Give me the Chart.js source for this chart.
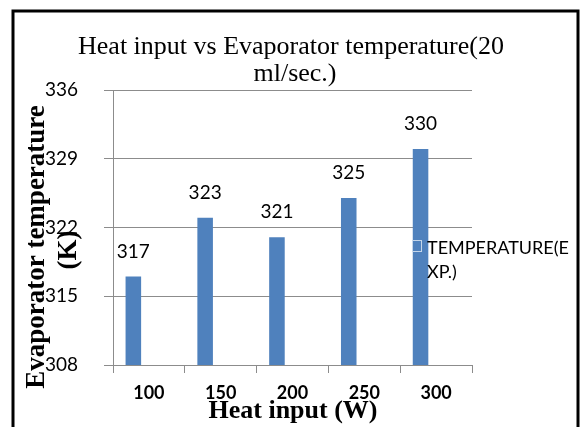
<!DOCTYPE html>
<html>
<head>
<meta charset="utf-8">
<script src="https://cdn.jsdelivr.net/npm/chart.js@4.4.7/dist/chart.umd.min.js"></script>
<style>
  html, body { margin: 0; padding: 0; background: #fff; }
  #wrap { width: 588px; height: 427px; }
</style>
</head>
<body>
<div id="wrap"><canvas id="heatChart" width="588" height="427"></canvas></div>
<script>
const heatInputs = ['100', '150', '200', '250', '300'];
const evapTemps = [317, 323, 321, 325, 330];
const yTicks = [308, 315, 322, 329, 336];
const seriesLabel = 'TEMPERATURE(EXP.)';
const titleLines = ['Heat input vs Evaporator temperature(20', 'ml/sec.)'];

const barBlue = '#4F81BD';
const gridGray = '#8c8c8c';

// titles, value labels, legend and frame drawn on top of the chart
const decorations = {
  id: 'decorations',
  beforeDraw(chart) {
    const ctx = chart.ctx;
    ctx.save();
    ctx.fillStyle = '#fff';
    ctx.fillRect(0, 0, chart.width, chart.height);
    ctx.restore();
  },
  afterDraw(chart) {
    const ctx = chart.ctx;
    ctx.save();
    ctx.fillStyle = '#000';
    ctx.textAlign = 'center';
    ctx.textBaseline = 'middle';

    // main title
    ctx.font = '26px "Liberation Serif"';
    ctx.fillText(titleLines[0], 291, 47, 434);
    ctx.fillText(titleLines[1], 295, 74);

    // x axis title
    ctx.font = 'bold 26px "Liberation Serif"';
    ctx.fillText('Heat input (W)', 293, 411, 172);

    // y axis title
    ctx.font = 'bold 27px "Liberation Serif"';
    ctx.save();
    ctx.translate(37, 247);
    ctx.rotate(-Math.PI / 2);
    ctx.fillText('Evaporator temperature', 0, 0, 286);
    ctx.restore();
    ctx.save();
    ctx.translate(69, 250);
    ctx.rotate(-Math.PI / 2);
    ctx.fillText('(K)', 0, 0);
    ctx.restore();

    // value labels above bars
    ctx.font = '19px Lato';
    const meta = chart.getDatasetMeta(0);
    meta.data.forEach((bar, i) => {
      ctx.fillText(String(evapTemps[i]), bar.x, bar.y - 25);
    });

    // legend (sits over the plot like the original)
    ctx.fillStyle = barBlue;
    ctx.fillRect(412, 240, 10, 12);
    ctx.strokeStyle = '#c5d6ea';
    ctx.lineWidth = 1;
    ctx.strokeRect(412.5, 240.5, 9, 11);
    ctx.fillStyle = '#000';
    ctx.textAlign = 'left';
    ctx.font = '18px Lato';
    ctx.fillText(seriesLabel.slice(0, 13), 427, 248, 146);
    ctx.fillText(seriesLabel.slice(13), 427, 272);

    // outer frame
    ctx.strokeStyle = '#000';
    ctx.lineWidth = 3;
    ctx.strokeRect(13, 11, 565, 440);
    ctx.restore();
  }
};

new Chart(document.getElementById('heatChart').getContext('2d'), {
  type: 'bar',
  data: {
    labels: heatInputs,
    datasets: [
      { label: seriesLabel, data: evapTemps, backgroundColor: barBlue, borderWidth: 0 },
      { label: '', data: [], backgroundColor: barBlue },
      { label: '', data: [], backgroundColor: barBlue }
    ]
  },
  options: {
    responsive: false,
    animation: false,
    categoryPercentage: 0.65,
    barPercentage: 1,
    layout: { padding: { left: 33, top: 90, right: 116, bottom: 22 } },
    plugins: {
      legend: { display: false },
      title: { display: false },
      tooltip: { enabled: false }
    },
    scales: {
      x: {
        afterFit(scale) { scale.height = 40; },
        grid: { drawOnChartArea: false, tickLength: 8, color: gridGray, offset: true },
        border: { color: gridGray },
        ticks: { color: '#000', padding: 9, font: { family: 'Lato', size: 18, weight: 'bold' } }
      },
      y: {
        min: 308,
        max: 336,
        afterFit(scale) { scale.width = 80; },
        afterBuildTicks(scale) { scale.ticks = yTicks.map(v => ({ value: v })); },
        grid: { color: gridGray, tickLength: 9 },
        border: { color: gridGray },
        ticks: { color: '#000', padding: 26, font: { family: 'Lato', size: 19 } }
      }
    }
  },
  plugins: [decorations]
});
</script>
</body>
</html>
